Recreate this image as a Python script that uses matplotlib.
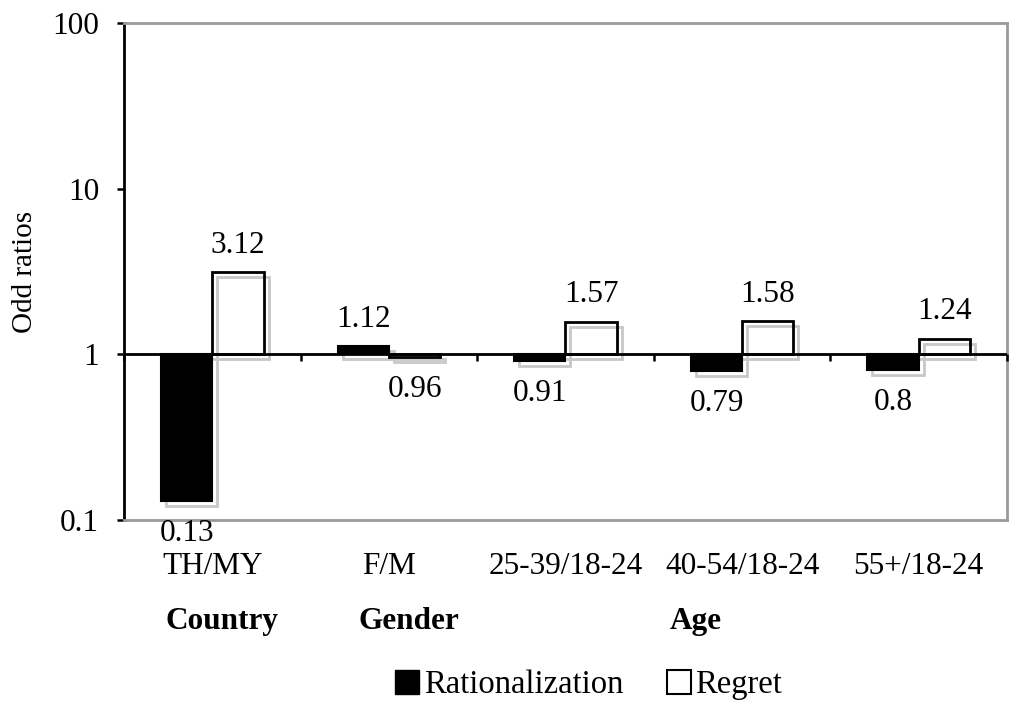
"""
Odds ratios for rationalization and regret by country, gender and age.
Log-scale bar chart with bars drawn from 1, saved as out.png.
"""

import numpy as np
import matplotlib
matplotlib.use("Agg")
import matplotlib.pyplot as plt
from matplotlib.lines import Line2D
from matplotlib.transforms import offset_copy

# Data
CATEGORIES = ["TH/MY", "F/M", "25-39/18-24", "40-54/18-24", "55+/18-24"]
RATIONALIZATION = [0.13, 1.12, 0.91, 0.79, 0.80]
REGRET = [3.12, 0.96, 1.57, 1.58, 1.24]
RAT_LABELS = ["0.13", "1.12", "0.91", "0.79", "0.8"]
REG_LABELS = ["3.12", "0.96", "1.57", "1.58", "1.24"]
GROUPS = ["Country", "Gender", "Age"]
GROUP_X = [0.22, 0.405, 0.69]  # figure fraction

plt.rcParams["font.family"] = ["Liberation Serif", "DejaVu Serif"]

fig = plt.figure(figsize=(10.09, 7.04), dpi=100)
ax = fig.add_axes([0.1229, 0.2614, 0.8751, 0.7059])

x = np.arange(len(CATEGORIES))
w = 0.29
rat = np.array(RATIONALIZATION)
reg = np.array(REGRET)

# gray drop shadows, shifted a few pixels right and down
shadow = offset_copy(ax.transData, fig=fig, x=5, y=-5, units="dots")
for xs, vals in [(x - w / 2, rat), (x + w / 2, reg)]:
    ax.bar(xs, vals - 1, w, bottom=1, facecolor="none", edgecolor="#c8c8c8",
           linewidth=2, transform=shadow, zorder=1)

ax.bar(x - w / 2, rat - 1, w, bottom=1, color="black", edgecolor="black",
       linewidth=1.5, zorder=2)
ax.bar(x + w / 2, reg - 1, w, bottom=1, facecolor="none", edgecolor="black",
       linewidth=2, zorder=3)

# baseline at 1 with category separators
ax.axhline(1, color="black", linewidth=2, zorder=4)
ax.plot(np.arange(len(CATEGORIES) + 1) - 0.5, [1] * (len(CATEGORIES) + 1),
        linestyle="none", marker=3, markersize=5, markeredgewidth=1.8,
        color="black", zorder=4, clip_on=False)

# value labels
for xs, vals, labels in [(x - w / 2, rat, RAT_LABELS), (x + w / 2, reg, REG_LABELS)]:
    for xi, v, lab in zip(xs, vals, labels):
        if v >= 1:
            ax.annotate(lab, (xi, v), xytext=(0, 9), textcoords="offset points",
                        ha="center", va="bottom", fontsize=22.5)
        else:
            ax.annotate(lab, (xi, v), xytext=(0, -13), textcoords="offset points",
                        ha="center", va="top", fontsize=22.5, zorder=6)

ax.set_yscale("log")
ax.set_ylim(0.1, 100)
ax.set_xlim(-0.5, len(CATEGORIES) - 0.5)
ax.set_yticks([0.1, 1, 10, 100])
ax.set_yticklabels(["0.1", "1", "10", "100"], fontsize=22.5)
ax.yaxis.set_minor_locator(matplotlib.ticker.NullLocator())
ax.tick_params(axis="y", direction="out", length=5, width=1.8, pad=13)

ax.set_xticks(x)
ax.set_xticklabels(CATEGORIES, fontsize=22.5)
ax.tick_params(axis="x", length=0, pad=23)

ax.set_ylabel("Odd ratios", fontsize=21, labelpad=10)

ax.spines["left"].set_color("black")
ax.spines["left"].set_linewidth(2)
for side in ["top", "right", "bottom"]:
    ax.spines[side].set_color("#9a9a9a")
    ax.spines[side].set_linewidth(2)

# group headings
for gx, name in zip(GROUP_X, GROUPS):
    fig.text(gx, 0.117, name, ha="center", va="center", fontsize=22.5,
             fontweight="bold")

handles = [
    Line2D([], [], linestyle="none", marker="s", markersize=17.5,
           markerfacecolor="black", markeredgecolor="black"),
    Line2D([], [], linestyle="none", marker="s", markersize=17,
           markerfacecolor="white", markeredgecolor="black", markeredgewidth=1.5),
]
fig.legend(handles, ["Rationalization", "Regret"], loc="center",
           bbox_to_anchor=(588 / 1009, 1 - 685 / 704), ncol=2, frameon=False,
           fontsize=23.5, handlelength=0.8, handletextpad=0.12, columnspacing=1.3)

fig.savefig("out.png", dpi=100)
